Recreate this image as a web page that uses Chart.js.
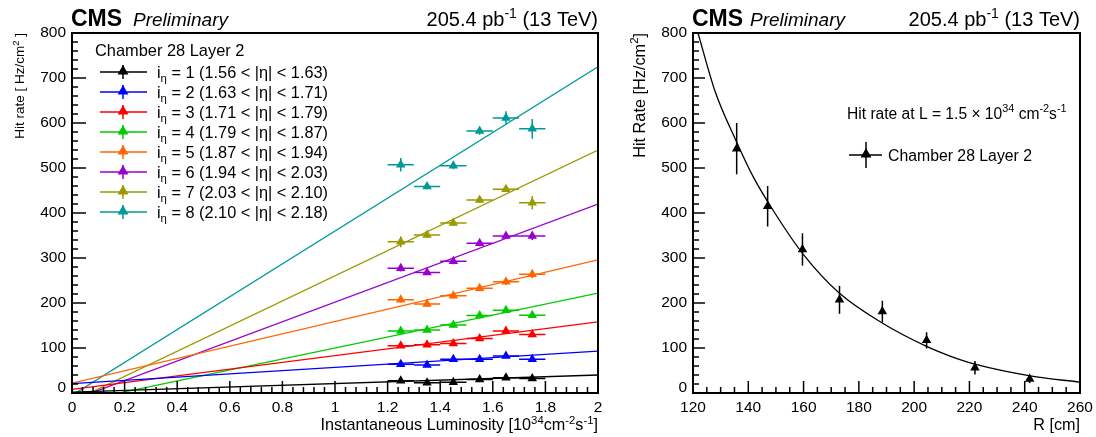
<!DOCTYPE html>
<html>
<head>
<meta charset="utf-8">
<script src="https://cdn.jsdelivr.net/npm/chart.js@4"></script>
<style>
body { margin: 0; background: #fff; }
#wrap { position: relative; width: 1096px; height: 437px; }
canvas { position: absolute; top: 0; }
#lumiChart { left: 0; }
#radiusChart { left: 620px; }
</style>
</head>
<body>
<div id="wrap">
<canvas id="lumiChart" width="620" height="437"></canvas>
<canvas id="radiusChart" width="476" height="437"></canvas>
</div>
<script>
// ---- left panel: hit rate vs luminosity, one series per eta partition
const lumi = [1.25, 1.35, 1.45, 1.55, 1.65, 1.75]
const lumiErr = [0.05, 0.05, 0.05, 0.05, 0.05, 0.05]
const rate1 = [27, 23, 24, 30, 34, 32]
const rate2 = [64, 62, 75, 75, 82, 75]
const rate3 = [105, 107, 110, 121, 138, 130]
const rate4 = [138, 140, 151, 172, 184, 173]
const rate5 = [207, 198, 216, 233, 247, 264]
const rate6 = [277, 268, 293, 333, 349, 349]
const rate7 = [336, 351, 378, 429, 453, 423]
const rate8 = [507, 459, 505, 582, 611, 587]
const err1 = [4, 4, 4, 4, 4, 4]
const err2 = [5, 5, 5, 5, 5, 5]
const err3 = [5, 5, 5, 5, 5, 6]
const err4 = [6, 5, 6, 6, 6, 6]
const err5 = [6, 6, 6, 7, 7, 9]
const err6 = [7, 6, 7, 7, 7, 9]
const err7 = [12, 6, 6, 6, 6, 15]
const err8 = [15, 6, 8, 8, 15, 22]
// straight-line fits, value at lumi 0 and lumi 2
const fitLumi = [0, 2]
const fit1 = [2, 40]
const fit2 = [21, 93]
const fit3 = [8, 158]
const fit4 = [-22, 222]
const fit5 = [22, 296]
const fit6 = [-16, 420]
const fit7 = [-19, 540]
const fit8 = [-5, 725]
const etaEdges = ['1.56', '1.63', '1.71', '1.79', '1.87', '1.94', '2.03', '2.10', '2.18']

// ---- right panel: hit rate vs radius at L = 1.5e34
const radius = [135.8, 147.0, 159.6, 173.0, 188.5, 204.5, 222.0, 241.8]
const rateR = [543, 415, 319, 207, 181, 117, 56, 31]
const errR = [57, 45, 36, 31, 24, 18, 15, 9]
const fitRadius = [121.8, 128, 135.4, 142, 149.6, 159.9, 172.9, 188.3, 204.3, 213, 222, 242, 260]
const fitRate = [800, 670, 563, 478, 400, 308, 222, 156, 104, 82, 64, 38, 24]

const rates = [rate1, rate2, rate3, rate4, rate5, rate6, rate7, rate8]
const errs = [err1, err2, err3, err4, err5, err6, err7, err8]
const fits = [fit1, fit2, fit3, fit4, fit5, fit6, fit7, fit8]
const colors = ['#000000', '#0000ff', '#ff0000', '#00cc00', '#ff6600', '#9900cc', '#999900', '#009999']

const FONT = '"Liberation Sans", Arial, Helvetica, sans-serif'

// text with super/subscripts, parts = [[text, 'n'|'sup'|'sub'], ...]
function rich(ctx, parts, x, y, size, align, style) {
    const f = s => `${style || ''} ${s}px ${FONT}`
    let w = 0
    parts.forEach(([t, k]) => { ctx.font = f(k === 'n' ? size : size * 0.7); w += ctx.measureText(t).width })
    let cx = align === 'right' ? x - w : align === 'center' ? x - w / 2 : x
    ctx.textAlign = 'left'
    ctx.textBaseline = 'alphabetic'
    parts.forEach(([t, k]) => {
        ctx.font = f(k === 'n' ? size : size * 0.7)
        const dy = k === 'sup' ? -size * 0.4 : k === 'sub' ? size * 0.28 : 0
        ctx.fillText(t, cx, y + dy)
        cx += ctx.measureText(t).width
    })
}

function triangle(ctx, x, y, r, color) {
    ctx.fillStyle = color
    ctx.beginPath()
    ctx.moveTo(x, y - r)
    ctx.lineTo(x + r * 0.9, y + r * 0.6)
    ctx.lineTo(x - r * 0.9, y + r * 0.6)
    ctx.closePath()
    ctx.fill()
}

const errorBars = {
    id: 'errorBars',
    beforeDatasetDraw(chart, args) {
        const ds = chart.data.datasets[args.index]
        if (!ds.yErr) return
        const { ctx, scales: { x, y } } = chart
        ctx.save()
        ctx.strokeStyle = ds.borderColor
        ctx.lineWidth = 1.5
        ds.data.forEach((p, i) => {
            const px = x.getPixelForValue(p.x), py = y.getPixelForValue(p.y)
            ctx.beginPath()
            ctx.moveTo(px, y.getPixelForValue(p.y - ds.yErr[i]))
            ctx.lineTo(px, y.getPixelForValue(p.y + ds.yErr[i]))
            if (ds.xErr) {
                ctx.moveTo(x.getPixelForValue(p.x - ds.xErr[i]), py)
                ctx.lineTo(x.getPixelForValue(p.x + ds.xErr[i]), py)
            }
            ctx.stroke()
        })
        ctx.restore()
    }
}

// ROOT-like frame with inward ticks, labels and titles
const rootFrame = {
    id: 'rootFrame',
    afterDraw(chart, args, o) {
        const { ctx, chartArea: a, scales: { x, y } } = chart
        ctx.save()
        ctx.strokeStyle = '#000'
        ctx.fillStyle = '#000'
        ctx.lineWidth = 2
        ctx.strokeRect(a.left, a.top, a.right - a.left, a.bottom - a.top)
        ctx.lineWidth = 1.5
        // x ticks
        const nx = Math.round((x.max - x.min) / o.xMinor)
        for (let i = 0; i <= nx; i++) {
            const v = x.min + i * o.xMinor
            const px = x.getPixelForValue(v)
            const major = i % o.xSub === 0
            ctx.beginPath()
            ctx.moveTo(px, a.bottom)
            ctx.lineTo(px, a.bottom - (major ? o.majorLen : o.minorLen))
            ctx.stroke()
            if (major) {
                ctx.font = `15.5px ${FONT}`
                ctx.textAlign = 'center'
                ctx.textBaseline = 'middle'
                ctx.fillText(o.xFmt(v), px, a.bottom + 15)
            }
        }
        // y ticks
        const ny = Math.round((y.max - y.min) / o.yMinor)
        for (let i = 0; i <= ny; i++) {
            const v = y.min + i * o.yMinor
            const py = y.getPixelForValue(v)
            const major = i % o.ySub === 0
            ctx.beginPath()
            ctx.moveTo(a.left, py)
            ctx.lineTo(a.left + (major ? o.yMajorLen : o.minorLen), py)
            ctx.stroke()
            if (major) {
                ctx.font = `15.5px ${FONT}`
                ctx.textAlign = 'right'
                ctx.textBaseline = 'middle'
                ctx.fillText(String(v), a.left - 6, v === 0 ? py - 5 : py)
            }
        }
        // header
        ctx.font = `bold 23px ${FONT}`
        ctx.textAlign = 'left'
        ctx.textBaseline = 'alphabetic'
        ctx.fillText('CMS', a.left - 1, 26)
        ctx.font = `italic 19px ${FONT}`
        ctx.fillText('Preliminary', a.left + o.prelimGap, 26)
        rich(ctx, [['205.4 pb', 'n'], ['-1', 'sup'], [' (13 TeV)', 'n']], a.right, 26, 20, 'right')
        // axis titles
        rich(ctx, o.xTitle, a.right, 430, 16.2, 'right')
        ctx.save()
        ctx.translate(o.yTitleX, a.top)
        ctx.rotate(-Math.PI / 2)
        rich(ctx, o.yTitle, 0, 0, o.yTitleSize, 'right')
        ctx.restore()
        o.extra && o.extra(ctx, a)
        ctx.restore()
    }
}

const leftDatasets = []
rates.forEach((r, i) => {
    leftDatasets.push({
        data: fitLumi.map((lx, j) => ({ x: lx, y: fits[i][j] })),
        showLine: true, pointRadius: 0, borderColor: colors[i], borderWidth: 1.3, order: 2
    })
})
rates.forEach((r, i) => {
    leftDatasets.push({
        data: lumi.map((lx, j) => ({ x: lx, y: r[j] })),
        xErr: lumiErr, yErr: errs[i],
        pointStyle: 'triangle', pointRadius: 5.5, borderWidth: 0,
        backgroundColor: colors[i], borderColor: colors[i], order: 1
    })
})

const baseOptions = {
    responsive: false,
    animation: false,
    events: [],
    plugins: { legend: { display: false }, tooltip: { enabled: false } },
}

new Chart(document.getElementById('lumiChart').getContext('2d'), {
    type: 'scatter',
    data: { datasets: leftDatasets },
    plugins: [errorBars, rootFrame],
    options: {
        ...baseOptions,
        layout: { padding: { left: 72, right: 22, top: 33, bottom: 44 } },
        scales: {
            x: { type: 'linear', min: 0, max: 2, display: false },
            y: { type: 'linear', min: 0, max: 800, display: false }
        },
        plugins: {
            ...baseOptions.plugins,
            rootFrame: {
                xMinor: 0.04, xSub: 5, yMinor: 20, ySub: 5,
                majorLen: 12, yMajorLen: 14, minorLen: 6,
                xFmt: v => String(Math.round(v * 10) / 10),
                prelimGap: 61,
                yTitleX: 24, yTitleSize: 13.5,
                xTitle: [['Instantaneous Luminosity [10', 'n'], ['34', 'sup'], ['cm', 'n'], ['-2', 'sup'], ['s', 'n'], ['-1', 'sup'], [']', 'n']],
                yTitle: [['Hit rate [ Hz/cm', 'n'], ['2', 'sup'], [' ]', 'n']],
                extra: (ctx, a) => {
                    ctx.fillStyle = '#000'
                    ctx.font = `16.4px ${FONT}`
                    ctx.textAlign = 'left'
                    ctx.textBaseline = 'alphabetic'
                    ctx.fillText('Chamber 28 Layer 2', 95, 56)
                    colors.forEach((c, i) => {
                        const cy = 72 + i * 20
                        ctx.strokeStyle = c
                        ctx.lineWidth = 1.5
                        ctx.beginPath()
                        ctx.moveTo(100, cy); ctx.lineTo(147, cy)
                        ctx.moveTo(123, cy - 7); ctx.lineTo(123, cy + 7)
                        ctx.stroke()
                        triangle(ctx, 123, cy - 1, 6, c)
                        ctx.fillStyle = '#000'
                        rich(ctx, [['i', 'n'], ['η', 'sub'], [` = ${i + 1} (${etaEdges[i]} < |η| < ${etaEdges[i + 1]})`, 'n']], 157, cy + 5.5, 16.3, 'left')
                    })
                }
            }
        }
    }
})

new Chart(document.getElementById('radiusChart').getContext('2d'), {
    type: 'scatter',
    data: {
        datasets: [
            {
                data: fitRadius.map((r, j) => ({ x: r, y: fitRate[j] })),
                showLine: true, pointRadius: 0, borderColor: '#000', borderWidth: 1.3,
                cubicInterpolationMode: 'monotone', order: 2
            },
            {
                data: radius.map((r, j) => ({ x: r, y: rateR[j] })),
                yErr: errR,
                pointStyle: 'triangle', pointRadius: 5.5, borderWidth: 0,
                backgroundColor: '#000', borderColor: '#000', order: 1
            }
        ]
    },
    plugins: [errorBars, rootFrame],
    options: {
        ...baseOptions,
        layout: { padding: { left: 73, right: 16, top: 33, bottom: 44 } },
        scales: {
            x: { type: 'linear', min: 120, max: 260, display: false },
            y: { type: 'linear', min: 0, max: 800, display: false }
        },
        plugins: {
            ...baseOptions.plugins,
            rootFrame: {
                xMinor: 5, xSub: 4, yMinor: 20, ySub: 5,
                majorLen: 12, yMajorLen: 12, minorLen: 6,
                xFmt: v => String(v),
                prelimGap: 57,
                yTitleX: 25, yTitleSize: 16.3,
                xTitle: [['R [cm]', 'n']],
                yTitle: [['Hit Rate [Hz/cm', 'n'], ['2', 'sup'], [']', 'n']],
                extra: (ctx, a) => {
                    ctx.fillStyle = '#000'
                    rich(ctx, [['Hit rate at L = 1.5 × 10', 'n'], ['34', 'sup'], [' cm', 'n'], ['-2', 'sup'], ['s', 'n'], ['-1', 'sup']], 227, 118.5, 15.6, 'left')
                    const lx = 246, ly = 155
                    ctx.strokeStyle = '#000'
                    ctx.lineWidth = 1.5
                    ctx.beginPath()
                    ctx.moveTo(lx - 17, ly); ctx.lineTo(lx + 16, ly)
                    ctx.moveTo(lx, ly - 13); ctx.lineTo(lx, ly + 13)
                    ctx.stroke()
                    triangle(ctx, lx, ly - 1, 6, '#000')
                    ctx.font = `15.8px ${FONT}`
                    ctx.textAlign = 'left'
                    ctx.textBaseline = 'alphabetic'
                    ctx.fillText('Chamber 28 Layer 2', 268, 161)
                }
            }
        }
    }
})
</script>
</body>
</html>
